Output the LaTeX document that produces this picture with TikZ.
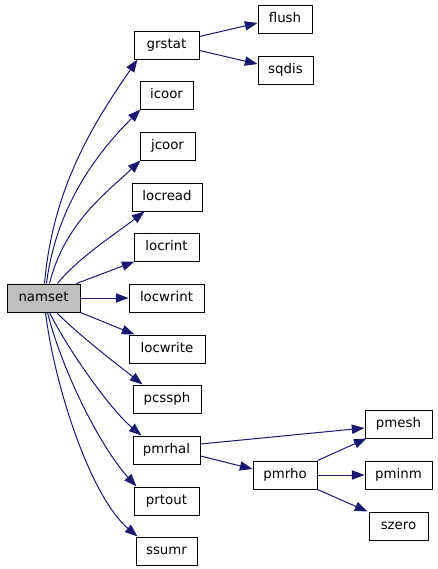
\documentclass[tikz,border=0pt]{standalone}
\usepackage{fontspec}
\setmainfont{DejaVu Sans}
\usetikzlibrary{arrows.meta,calc}
\definecolor{edgeblue}{HTML}{191970}
\definecolor{hlgray}{HTML}{BFBFBF}
\begin{document}
\begin{tikzpicture}[x=0.75pt,y=-0.75pt,
  box/.style={draw=black,line width=0.75pt,fill=white,minimum height=21pt,inner sep=0pt,
    font=\fontsize{10}{12}\selectfont,text height=7.5pt,text depth=2pt},
  edge/.style={draw=edgeblue,line width=0.75pt,-{Triangle[length=9.5pt,width=7pt]}}]
\useasboundingbox (0,0) rectangle (437,569);
\node[box,fill=hlgray,minimum width=54.75pt] (namset) at (43.5,298) {namset};
\node[box,minimum width=48.75pt] (grstat) at (166.5,45) {grstat};
\node[box,minimum width=39.75pt] (icoor) at (166.5,95) {icoor};
\node[box,minimum width=41.25pt] (jcoor) at (167.5,146) {jcoor};
\node[box,minimum width=52.5pt] (locread) at (167,197) {locread};
\node[box,minimum width=48.75pt] (locrint) at (166.5,247) {locrint};
\node[box,minimum width=56.25pt] (locwrint) at (166.5,298) {locwrint};
\node[box,minimum width=57pt] (locwrite) at (167,349) {locwrite};
\node[box,minimum width=51pt] (pcssph) at (167,399) {pcssph};
\node[box,minimum width=50.25pt] (pmrhal) at (166.5,450) {pmrhal};
\node[box,minimum width=48.75pt] (prtout) at (166.5,501) {prtout};
\node[box,minimum width=45.75pt] (ssumr) at (166.5,551) {ssumr};
\node[box,minimum width=40.5pt] (flush) at (285,19) {flush};
\node[box,minimum width=41.25pt] (sqdis) at (285.5,70) {sqdis};
\node[box,minimum width=50.25pt] (pmesh) at (398.5,424) {pmesh};
\node[box,minimum width=48pt] (pmrho) at (285,475) {pmrho};
\node[box,minimum width=50.25pt] (pminm) at (398.5,475) {pminm};
\node[box,minimum width=44.25pt] (szero) at (398.5,526) {szero};

\draw[edge] ($(namset.north west)+(38,0)$) .. controls +(8,-90) and +(-50,72) .. ($(grstat.south west)+(4,0)$);
\draw[edge] ($(namset.north west)+(40,0)$) .. controls +(10,-80) and +(-40,40) .. ($(icoor.south west)+(1,0)$);
\draw[edge] ($(namset.north west)+(43,0)$) .. controls +(15,-60) and +(-35,33) .. ($(jcoor.south west)+(1,0)$);
\draw[edge] ($(namset.north west)+(51,0)$) .. controls +(20,-25) and +(-30,23) .. ($(locread.south west)+(13,0)$);
\draw[edge] ($(namset.north west)+(70,0)$) -- ($(locrint.south west)+(1,0)$);
\draw[edge] (namset.east) -- (locwrint.west);
\draw[edge] (namset.south east) -- ($(locwrite.north west)+(6,0)$);
\draw[edge] ($(namset.south west)+(50,0)$) .. controls +(25,25) and +(-25,-20) .. ($(pcssph.north west)+(10,0)$);
\draw[edge] ($(namset.south west)+(43,0)$) .. controls +(20,40) and +(-30,-25) .. ($(pmrhal.north west)+(9,0)$);
\draw[edge] ($(namset.south west)+(41,0)$) .. controls +(15,60) and +(-35,-38) .. ($(prtout.north west)+(3,0)$);
\draw[edge] ($(namset.south west)+(39,0)$) .. controls +(10,80) and +(-45,-38) .. ($(ssumr.north west)+(2,0)$);

\draw[edge] ($(grstat.north east)+(0,6)$) -- ($(flush.west)+(0,4)$);
\draw[edge] ($(grstat.south east)+(0,-9)$) -- ($(sqdis.west)+(0,-6)$);
\draw[edge] ($(pmrhal.east)+(0,-6)$) -- ($(pmesh.west)+(0,4)$);
\draw[edge] ($(pmrhal.east)+(0,6)$) -- ($(pmrho.west)+(0,-6)$);
\draw[edge] (pmrho.north east) -- ($(pmesh.south west)+(2,0)$);
\draw[edge] (pmrho.east) -- (pminm.west);
\draw[edge] (pmrho.south east) -- ($(szero.north west)+(-1,0)$);
\end{tikzpicture}
\end{document}
